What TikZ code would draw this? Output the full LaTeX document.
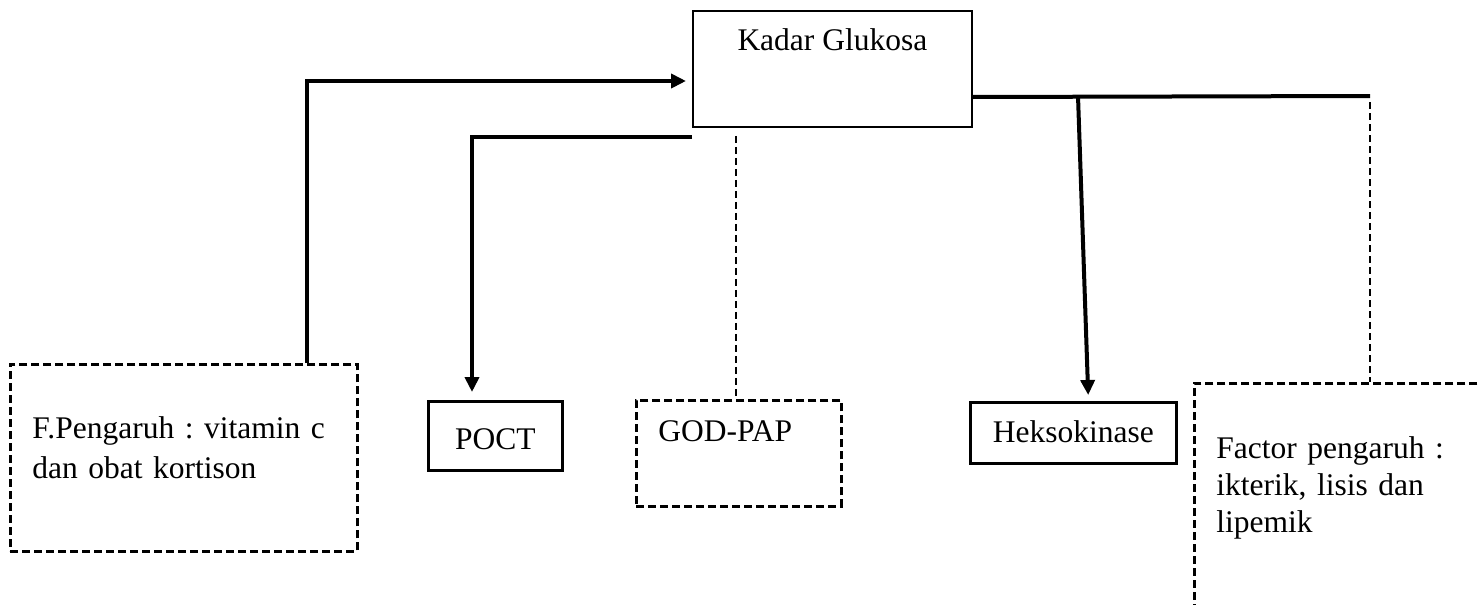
\documentclass[tikz,border=0pt]{standalone}
\usepackage{fontspec}
\setmainfont{Liberation Serif}
\usetikzlibrary{arrows.meta}
\frenchspacing
\begin{document}
\begin{tikzpicture}[x=1pt,y=-1pt,
  txt/.style={font=\fontsize{31.5}{40}\selectfont\frenchspacing, inner sep=0pt},
  solidbox/.style={draw, line width=2.8pt, txt},
  thinbox/.style={draw, line width=1.8pt, txt},
  dashbox/.style={draw, line width=2.9pt, dash pattern=on 8pt off 4pt, txt},
  conn/.style={line width=4pt},
  arr/.style={conn, -{Triangle[length=15pt,width=14pt]}},
  dashconn/.style={line width=1.8pt, dash pattern=on 7pt off 4pt}]
\useasboundingbox (0,0) rectangle (1478,605);
\clip (0,0) rectangle (1478,605);
\fill[white] (0,0) rectangle (1478,605);

\node[thinbox, anchor=north west, minimum width=279pt, text height=40pt, text depth=76pt] (kadar) at (692,10) {Kadar Glukosa};

\node[dashbox, anchor=north west, inner xsep=22pt, text width=303pt, align=left, text height=74pt, text depth=113pt] (fbox) at (9,363) {F.Pengaruh : vitamin c\\dan obat kortison};

\node[solidbox, anchor=north west, minimum width=134pt, text height=48pt, text depth=21pt] (poct) at (427,400) {POCT};

\node[dashbox, anchor=north west, inner xsep=22pt, text width=161pt, align=left, text height=41pt, text depth=65pt] (godpap) at (635,399) {GOD-PAP};

\node[solidbox, anchor=north west, minimum width=206pt, text height=40pt, text depth=21pt] (heks) at (969,401) {Heksokinase};

\node[dashbox, anchor=north west, inner xsep=22pt, text width=260pt, align=left, text height=75pt, text depth=200pt, font=\fontsize{31.5}{37}\selectfont\frenchspacing] (factor) at (1193,382) {Factor pengaruh :\\ikterik, lisis dan\\lipemik};

% connectors
\draw[arr, shorten >=6pt] ([xshift=298pt]fbox.north west) |- ([yshift=-71pt]kadar.north west);
\draw[arr, shorten >=8pt] ([yshift=-9pt]kadar.south west) -| ([xshift=45pt]poct.north west);
\draw[dashconn] ([xshift=44pt,yshift=-8pt]kadar.south west) -- ([xshift=44pt]kadar.south west |- godpap.north);

\coordinate (corner) at (1370,96);
\coordinate (j1) at (1078,96);
\draw[conn] ([yshift=-87pt]kadar.north east) -- (corner);
\draw[arr, shorten >=6pt] (j1) -- ([xshift=15pt]heks.north);
\draw[dashconn] ([yshift=-6pt]corner) -- (corner |- factor.north);
\end{tikzpicture}
\end{document}
